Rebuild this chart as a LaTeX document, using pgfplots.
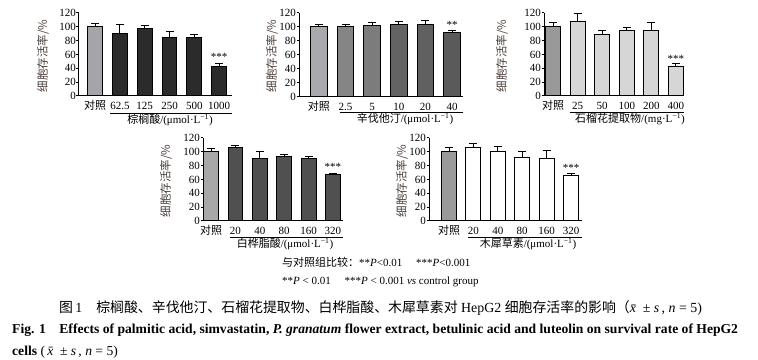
\documentclass[border=0pt]{standalone}
\usepackage{fontspec}
\setmainfont{Liberation Serif}
\newfontfamily\cjk{Noto Sans CJK SC}
\usepackage{pgfplots}
\pgfplotsset{compat=1.18}
\definecolor{labc}{HTML}{4A3E38}
\definecolor{aCtl}{HTML}{A4A4AA}\definecolor{aBar}{HTML}{2B2B2B}
\definecolor{bCtl}{HTML}{A8A8AE}\definecolor{bB}{HTML}{858585}\definecolor{bC}{HTML}{7C7C7C}\definecolor{bD}{HTML}{636363}\definecolor{bE}{HTML}{606060}\definecolor{bF}{HTML}{5A5A5A}
\definecolor{cCtl}{HTML}{999999}\definecolor{cBar}{HTML}{D6D6D6}
\definecolor{dCtl}{HTML}{A8A8A8}\definecolor{dBar}{HTML}{505050}
\definecolor{eCtl}{HTML}{9A9A9A}
\pgfplotsset{
  panel/.style={
    scale only axis, anchor=south west, clip=false,
    ymin=0, ymax=120, ytick={0,20,...,120},
    axis x line*=bottom, axis y line*=left,
    axis line style={line width=1pt,-},
    xtick={0,...,5},
    tick align=outside, major tick length=2.5pt,
    ytick style={line width=1pt,black},
    xtick style={draw=none},
    tick label style={font=\fontsize{11}{11}\selectfont},
    yticklabel style={inner sep=0.5pt},
    xticklabel style={anchor=base, yshift=-11.5pt, inner sep=0pt},
    /pgf/number format/assume math mode=true,
  },
  br/.style={ybar, bar width=#1, draw=black, line width=1pt,
    error bars/y dir=plus, error bars/y explicit,
    error bars/error bar style={line width=1pt,black},
    error bars/error mark options={rotate=90, mark size=4pt, line width=1pt, black}},
}
\newcommand{\fs}{\fontsize{11}{11}\selectfont}
\begin{document}
\begin{tikzpicture}[x=1pt,y=1pt]
\path[use as bounding box] (0,0) rectangle (758,359);
% ---------- Panel 1: palmitic acid
\begin{axis}[panel, at={(79pt,263pt)}, width=153pt, height=83pt,
  xmin=-0.65, xmax=5.52,
  xticklabels={{\cjk 对照},62.5,125,250,500,1000}]
\addplot[br=0.6, fill=aCtl] table[y error=e] {
x y e
0 100 5
};
\addplot[br=0.6, fill=aBar] table[y error=e] {
x y e
1 91 12
2 97 5
3 85 8
4 84 5
5 43 4
};
\node[font=\fs] at (axis cs:5,56) {***};
\end{axis}
% ---------- Panel 2: simvastatin
\begin{axis}[panel, at={(299pt,262pt)}, width=164pt, height=84pt,
  xmin=-0.75, xmax=5.41,
  xticklabels={{\cjk 对照},2.5,5,10,20,40}]
\addplot[br=0.62, fill=bCtl] table[y error=e] {
x y e
0 100 3
};
\addplot[br=0.62, fill=bB] table[y error=e] {
x y e
1 101 3
};
\addplot[br=0.62, fill=bC] table[y error=e] {
x y e
2 102 4
};
\addplot[br=0.62, fill=bD] table[y error=e] {
x y e
3 103 5
};
\addplot[br=0.62, fill=bE] table[y error=e] {
x y e
4 104 5
};
\addplot[br=0.62, fill=bF] table[y error=e] {
x y e
5 92 3
};
\node[font=\fs] at (axis cs:5,103) {**};
\end{axis}
% ---------- Panel 3: P. granatum flower extract
\begin{axis}[panel, at={(544pt,263pt)}, width=140pt, height=83pt,
  xmin=-0.37, xmax=5.33,
  xticklabels={{\cjk 对照},25,50,100,200,400}]
\addplot[br=0.61, fill=cCtl] table[y error=e] {
x y e
0 100 6
};
\addplot[br=0.61, fill=cBar] table[y error=e] {
x y e
1 108 11
2 89 6
3 95 4
4 95 11
5 42 5
};
\node[font=\fs] at (axis cs:5,54) {***};
\end{axis}
% ---------- Panel 4: betulinic acid
\begin{axis}[panel, at={(203pt,138pt)}, width=140pt, height=83pt,
  xmin=-0.33, xmax=5.41,
  xticklabels={{\cjk 对照},20,40,80,160,320}]
\addplot[br=0.61, fill=dCtl] table[y error=e] {
x y e
0 101 4
};
\addplot[br=0.61, fill=dBar] table[y error=e] {
x y e
1 106 3
2 91 10
3 93 3
4 90 3
5 67 2
};
\node[font=\fs] at (axis cs:5,78.5) {***};
\end{axis}
% ---------- Panel 5: luteolin
\begin{axis}[panel, at={(429pt,138pt)}, width=153pt, height=83pt,
  xmin=-0.82, xmax=5.45,
  xticklabels={{\cjk 对照},20,40,80,160,320}]
\addplot[br=0.61, fill=eCtl] table[y error=e] {
x y e
0 101 5
};
\addplot[br=0.61, fill=white] table[y error=e] {
x y e
1 106 6
2 100 8
3 92 9
4 90 12
5 66 2
};
\node[font=\fs] at (axis cs:5,76.5) {***};
\end{axis}
% ---------- y labels
\foreach \px/\py in {43/303, 272/303, 502/303, 166/178, 402/178}{
  \node[rotate=90, text=labc, font=\cjk\fontsize{11.5}{11.5}\selectfont, inner sep=0pt] at (\px,\py) {细胞存活率/\%};
}
% ---------- underlines and x labels
\draw[line width=0.8pt] (110,246) -- (232,246);
\draw[line width=0.8pt] (340,247) -- (463,247);
\draw[line width=0.8pt] (570,247) -- (684,247);
\draw[line width=0.8pt] (230,122) -- (343,122);
\draw[line width=0.8pt] (468,122) -- (582,122);
\node[font=\fs, inner sep=0pt] at (170,239) {{\cjk 棕榈酸}/(μmol·L\textsuperscript{−1})};
\node[font=\fs, inner sep=0pt] at (405,240) {{\cjk 辛伐他汀}/(μmol·L\textsuperscript{−1})};
\node[font=\fs, inner sep=0pt] at (630,240) {{\cjk 石榴花提取物}/(mg·L\textsuperscript{−1})};
\node[font=\fs, inner sep=0pt] at (285,115) {{\cjk 白桦脂酸}/(μmol·L\textsuperscript{−1})};
\node[font=\fs, inner sep=0pt] at (528,115) {{\cjk 木犀草素}/(μmol·L\textsuperscript{−1})};
% ---------- notes
\node[font=\fs, anchor=west, inner sep=0pt] at (282,97) {{\cjk 与对照组比较：}**\textit{P}<0.01\quad\ ***\textit{P}<0.001};
\node[font=\fs, anchor=west, inner sep=0pt] at (282,77) {**\textit{P} < 0.01\quad\ ***\textit{P} < 0.001 \textit{vs} control group};
% ---------- caption
\node[font=\fontsize{13.9}{13.9}\selectfont, anchor=west, inner sep=0pt] at (59,51) {{\cjk 图}\,1\quad{\cjk 棕榈酸、辛伐他汀、石榴花提取物、白桦脂酸、木犀草素对} HepG2 {\cjk 细胞存活率的影响（}\textit{\={x}} ± \textit{s}\,, \textit{n} = 5)};
\node[font=\bfseries\fontsize{13.6}{13.6}\selectfont, anchor=west, inner sep=0pt] at (12,29) {Fig. 1\quad Effects of palmitic acid, simvastatin, \textit{P. granatum} flower extract, betulinic acid and luteolin on survival rate of HepG2};
\node[font=\fontsize{13.6}{13.6}\selectfont, anchor=west, inner sep=0pt] at (12,7) {\textbf{cells} (\,\textit{\={x}} ± \textit{s}\,, \textit{n} = 5)};
\end{tikzpicture}
\end{document}
